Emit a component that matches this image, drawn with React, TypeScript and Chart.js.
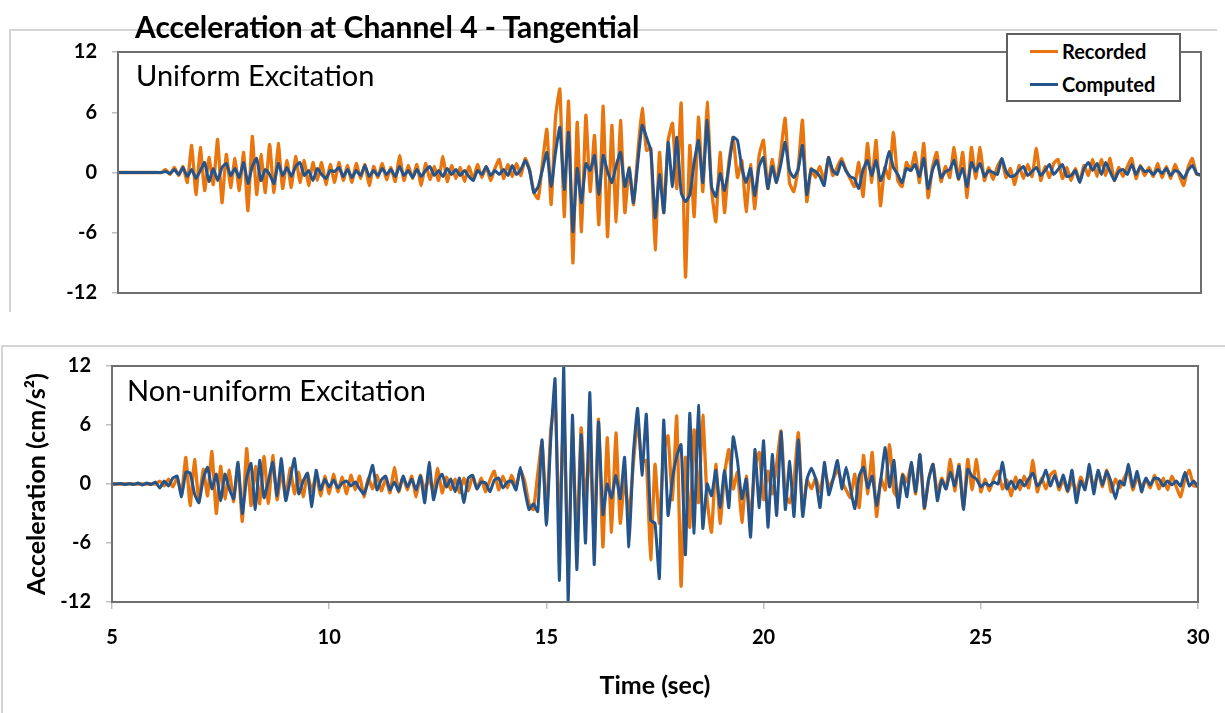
import React, { useEffect, useRef } from 'react';
import { Chart, registerables } from 'chart.js';

Chart.register(...registerables);

// ---- data ----
const START_TIME = 5; // s, time of first sample
const TIME_STEP = 0.1; // s, sample spacing
const seriesNames = ['Recorded', 'Computed'];
const panelNames = ['Uniform Excitation', 'Non-uniform Excitation'];
const chartTitle = 'Acceleration at Channel 4 - Tangential';
const yAxisTitle = 'Acceleration (cm/s\u00B2)';
const xAxisTitle = 'Time (sec)';
const yTicks = [-12, -6, 0, 6, 12];
const xTicks = [5, 10, 15, 20, 25, 30];

// Recorded acceleration (same record shown in both panels), t = 5.0 ... 30.0 s
const recorded = [
  0, 0, 0, 0, 0, 0, 0, 0, 0, 0,
  0, 0.3, -0.2, 0.5, -0.3, 0.6, -1.0, 2.7, -2.2, 2.5,
  -1.8, 1.5, -1.2, 3.3, -3.0, 1.8, -1.5, 1.4, -1.8, 2.0,
  -3.8, 3.6, -2.2, 1.8, -2.0, 2.8, -2.0, 2.9, -1.6, 1.2,
  -1.5, 1.6, -1.0, 1.2, -1.3, 1.0, -0.8, 1.0, -1.2, 0.8,
  -1.0, 1.0, -0.8, 0.7, -1.0, 0.9, -0.6, 0.8, -1.3, 0.6,
  -0.5, 0.9, -0.7, 0.5, -0.9, 1.7, -0.8, 0.7, -0.6, 0.8,
  -1.3, 0.9, -0.7, 0.6, -0.8, 1.6, -0.9, 0.7, -0.6, 0.5,
  -0.9, 0.6, -0.7, 0.8, -0.5, 0.6, -0.8, 0.4, 1.3, -0.6,
  0.8, -0.4, 0.9, -0.3, 1.4, 0.3, -2.0, -2.6, 1.0, 4.3,
  -3.2, 5.5, 8.3, -4.4, 7.1, -9.0, 5.0, -5.9, 5.7, -1.9,
  3.7, -5.2, 6.6, -6.4, 4.7, -4.9, 5.2, -4.0, 0.5, -3.2,
  2.0, 6.4, 2.2, 2.4, -7.7, 2.0, -4.0, 3.2, 4.9, -1.6,
  6.9, -10.4, 2.7, -4.4, 5.5, -1.9, 7.0, -1.6, -4.9, 2.0,
  -4.0, 1.0, 3.5, -0.5, 1.2, -3.9, 0.8, -3.6, 1.7, 3.2,
  -1.6, 1.3, -1.0, 2.0, 5.4, -1.0, -1.9, 0.4, 5.2, -2.9,
  0.4, -0.5, 0.6, -0.8, 1.5, -0.3, 0.5, 1.4, 0.3, -0.6,
  -1.4, 1.0, -2.4, 2.9, -1.0, 3.2, -3.3, 0.5, -0.6, 4.0,
  -0.8, -1.4, 1.0, 0.2, 2.0, -1.0, 2.9, -2.5, 0.5, 2.0,
  -0.9, 0.6, -0.5, 2.5, -0.7, 2.0, -2.5, 2.5, -0.6, 2.5,
  -0.8, 0.5, -0.7, 0.6, 1.3, -0.5, 0.4, -1.2, 0.7, -0.6,
  0.8, -0.4, 2.4, -0.8, 0.6, -0.5, 0.9, 1.3, -0.6, 0.5,
  -0.8, 0.4, -0.9, 0.7, -0.3, 1.3, -0.4, 1.3, -0.3, 1.4,
  -0.8, 0.5, -0.4, 0.6, 1.4, -0.6, 0.7, -0.3, 0.5, -0.4,
  0.9, -0.5, 0.6, -0.6, 0.8, -0.3, -1.3, 0.5, 1.4, -0.2,
  -0.2,
];

// Computed, uniform excitation
const computedUniform = [
  0, 0, 0, 0, 0, 0, 0, 0, 0, 0,
  0, 0.1, -0.1, 0.3, -0.2, 0.5, -0.4, 0.3, -0.6, 0.2,
  1.0, -0.9, 0.4, -0.8, 0.5, 0.9, -0.3, 0.4, -0.5, 1.0,
  -1.1, 0.6, 1.4, -0.8, 0.3, -0.2, -1.1, 0.9, -0.3, 0.5,
  -0.4, 0.6, 1.0, -0.3, 0.2, -0.8, 0.4, -0.2, -0.6, 0.2,
  0.1, 0.5, -0.4, 0.3, -0.5, 0.2, -0.3, 0.7, -0.4, 0.2,
  -0.3, 0.4, -0.2, 0.3, -0.4, 0.6, -0.3, 0.2, -0.5, 0.3,
  -0.4, 0.2, 0.6, -0.3, 0.2, -0.4, 0.4, -0.2, 0.3, -0.3,
  0.2, -0.4, -0.8, 0.2, -0.2, 0.6, -0.3, 0.2, -0.2, 0.3,
  -0.3, 0.7, -0.2, 0.3, 1.2, 0.2, -2.0, -1.4, 0.3, 2.0,
  -1.4, 2.0, 4.5, -1.7, 4.0, -5.9, 0.4, -3.0, 0.9, 0.2,
  1.7, -2.2, 1.7, 0.1, -1.0, 0.7, 2.0, -1.4, 0.4, -3.0,
  1.0, 4.7, 3.5, 2.2, -4.5, -0.2, -4.0, 3.0, -1.4, 3.5,
  -2.0, -2.9, -2.2, 1.0, 3.2, -1.0, 5.2, -1.4, -2.4, -0.1,
  -1.8, 0.5, 3.5, 3.2, 0.5, -1.0, 0.4, -2.3, 0.6, 1.5,
  -1.6, 0.6, -1.0, 0.8, 3.0, 0.2, -0.5, 0.3, 2.7, -2.2,
  0.3, 0.1, -0.4, -1.3, 1.5, 0.2, -0.2, 1.1, 0.2, -0.4,
  -0.6, -1.6, 0.3, 1.2, -0.3, 1.2, -0.8, 0.3, 2.1, 0.5,
  -0.2, -1.0, 0.4, 0.2, 0.8, -0.4, 1.4, -1.6, 0.2, 1.2,
  -0.5, 0.1, 0.3, 1.2, -0.6, 0.4, -1.4, 1.0, 0.1, 0.9,
  -0.4, 0.2, 0.0, -0.2, 1.4, 0.1, -0.4, -0.3, 0.2, 0.6,
  -0.3, 0.1, 0.5, -0.3, 0.2, 0.8, -0.2, 0.3, 0.8, -0.4,
  -0.3, 0.2, -1.0, 0.4, 1.0, 0.2, 0.9, -0.2, 1.0, 0.1,
  -0.8, 0.1, 0.3, -0.2, 0.8, -0.2, 0.6, 0.1, 0.2, -0.2,
  0.3, -0.1, 0.4, -0.3, 0.2, 0.0, -0.6, 0.2, 0.7, -0.1,
  -0.3,
];

// Computed, non-uniform excitation
const computedNonUniform = [
  0, 0, 0.05, -0.05, 0.05, -0.05, 0.1, -0.1, 0.1, -0.05,
  0.2, -0.4, 0.3, -0.2, 0.6, 0.8, -1.3, 1.2, 1.1, -1.0,
  -1.9, 0.5, 1.7, -0.5, 1.0, -1.7, 1.0, -0.5, -1.5, 2.2,
  -3.0, 0.6, 2.1, -2.6, 2.4, -1.4, 0.3, 2.2, -1.2, 2.6,
  -1.7, 0.4, 2.6, -1.0, 0.3, 1.1, -2.3, 1.4, -0.6, 0.5,
  -0.3, 0.4, -0.4, 0.1, 0.3, -0.2, 0.2, -0.5, -1.0, 0.3,
  1.9, -0.6, 0.4, 0.8, -0.6, 0.2, -0.7, 0.8, -0.3, 0.5,
  -0.6, 0.8, -1.9, 2.2, -1.6, 0.3, 1.0, -0.3, 0.5, -0.8,
  0.6, -1.9, 0.6, 0.9, -0.5, 0.2, 0.1, -0.8, 0.4, 0.6,
  -0.4, 0.2, 0.3, -0.6, 1.7, -0.6, -2.6, -2.0, -2.8, 4.5,
  -4.2, 4.5, 10.7, -9.8, 12.0, -12.0, 7.0, -8.7, 5.0, -6.0,
  9.3, -8.2, 6.3, -3.1, 0.0, -1.4, 0.9, -1.5, 2.7, -6.4,
  3.0, 7.7, 0.9, 7.1, -3.7, -4.0, -9.6, 6.5, -3.2, 0.5,
  2.8, 4.0, -7.2, 7.2, -5.0, 8.0, -4.5, 0.0, -1.2, 1.4,
  -2.4, 1.4, -2.4, 4.8, 2.3, -1.5, 0.5, -5.4, 3.5, -2.4,
  4.4, -4.4, 3.0, -3.2, 5.3, -2.6, 2.3, -3.3, 4.5, -3.3,
  0.5, 1.6, 0.5, -2.4, 2.2, -1.1, 0.5, 2.4, -0.5, 1.7,
  -0.5, -2.5, 0.8, 1.7, -0.4, 0.8, -2.2, 0.5, 3.7, -0.3,
  2.4, -2.4, 0.9, -1.3, 2.2, -0.8, 3.0, -2.4, 0.5, 2.0,
  -1.7, 0.4, -0.5, 1.2, -0.2, 1.8, -2.6, 1.5, 0.8, 0.5,
  -0.3, 0.1, -0.2, 0.2, 0.0, 2.2, -0.5, 0.3, -0.5, 0.4,
  -0.2, 0.5, 1.1, -0.2, 0.3, 1.4, -0.2, 0.9, -0.3, 0.9,
  -0.7, 1.4, -1.9, 0.3, -0.6, 2.0, -1.0, 1.4, -0.1, 1.3,
  0.2, -1.5, 0.3, -0.1, 2.0, -0.3, 1.3, -0.8, 0.6, -0.1,
  0.6, 0.5, -0.2, 0.3, -0.1, 0.3, -0.2, 1.2, -0.2, 0.3,
  -0.3,
];

// ---- styles ----
const ORANGE = '#E8750E';
const BLUE = '#24548A';
const FONT = 'Lato, "Open Sans", "DejaVu Sans", sans-serif';
Chart.defaults.font.family = FONT;

const toPoints = (vals: number[]) =>
  vals.map((v, i) => ({ x: START_TIME + i * TIME_STEP, y: v }));

const plotBorder = {
  id: 'plotBorder',
  afterDraw(chart: any) {
    const { ctx, chartArea: a } = chart;
    ctx.save();
    ctx.strokeStyle = '#6f6f6f';
    ctx.lineWidth = 2;
    ctx.strokeRect(a.left, a.top, a.right - a.left, a.bottom - a.top);
    ctx.restore();
  },
};

function makeConfig(computed: number[], bottom: boolean): any {
  const yWidth = bottom ? 112 : 118;
  return {
    type: 'line',
    data: {
      datasets: [
        {
          label: seriesNames[1],
          data: toPoints(computed),
          borderColor: BLUE,
          borderWidth: 3,
          pointRadius: 0,
          tension: 0.15,
          order: 1,
        },
        {
          label: seriesNames[0],
          data: toPoints(recorded),
          borderColor: ORANGE,
          borderWidth: 3.3,
          pointRadius: 0,
          tension: 0.15,
          order: 2,
        },
      ],
    },
    options: {
      animation: false,
      responsive: false,
      events: [],
      layout: {
        padding: bottom
          ? { top: 16, right: 27, bottom: 0, left: 0 }
          : { top: 12, right: 24, bottom: 17, left: 0 },
      },
      plugins: { legend: { display: false }, tooltip: { enabled: false } },
      scales: {
        x: {
          type: 'linear',
          min: xTicks[0],
          max: xTicks[xTicks.length - 1],
          display: bottom,
          afterBuildTicks: (s: any) => {
            s.ticks = xTicks.map((v) => ({ value: v }));
          },
          afterFit: (s: any) => {
            s.height = bottom ? 111 : 0;
            s.paddingLeft = 0;
            s.paddingRight = 0;
          },
          ticks: {
            color: '#000',
            font: { size: 20, weight: 'bold' },
            padding: 17,
            maxRotation: 0,
          },
          grid: {
            drawOnChartArea: false,
            drawTicks: true,
            tickLength: 7,
            color: '#bfbfbf',
            lineWidth: 1.5,
          },
          border: { display: false },
          title: {
            display: true,
            text: xAxisTitle,
            color: '#000',
            font: { size: 25, weight: 'bold' },
            padding: { top: 0, bottom: 12 },
          },
        },
        y: {
          min: yTicks[0],
          max: yTicks[yTicks.length - 1],
          afterBuildTicks: (s: any) => {
            s.ticks = yTicks.map((v) => ({ value: v }));
          },
          afterFit: (s: any) => {
            s.width = yWidth;
            s.paddingTop = 0;
            s.paddingBottom = 0;
          },
          ticks: {
            color: '#000',
            font: { size: 20, weight: 'bold' },
            padding: 15,
          },
          grid: {
            drawOnChartArea: false,
            drawTicks: true,
            tickLength: 6,
            color: '#bfbfbf',
            lineWidth: 1.5,
          },
          border: { display: false },
          title: {
            display: bottom,
            text: yAxisTitle,
            color: '#000',
            font: { size: 25, weight: 'bold' },
            padding: { top: 22, bottom: 0 },
          },
        },
      },
    },
    plugins: [plotBorder],
  };
}

function Panel({ computed, bottom, top, height }: { computed: number[]; bottom: boolean; top: number; height: number }) {
  const ref = useRef<HTMLCanvasElement | null>(null);
  useEffect(() => {
    if (!ref.current) return;
    const chart = new Chart(ref.current, makeConfig(computed, bottom));
    return () => chart.destroy();
  }, [computed, bottom]);
  return (
    <canvas
      ref={ref}
      width={1225}
      height={height}
      style={{ position: 'absolute', left: 0, top, width: 1225, height }}
    />
  );
}

const seriesColors = [ORANGE, BLUE];

export default function App() {
  return (
    <div
      style={{
        position: 'absolute',
        left: 0,
        top: 0,
        width: 1225,
        height: 713,
        overflow: 'hidden',
        background: '#fff',
        fontFamily: FONT,
      }}
    >
      {/* outer frames */}
      <div
        style={{
          position: 'absolute',
          left: 9,
          top: 29,
          width: 1208,
          height: 283,
          borderTop: '2px solid #d4d4d4',
          borderLeft: '2px solid #d4d4d4',
          boxSizing: 'border-box',
        }}
      />
      <div
        style={{
          position: 'absolute',
          left: 1,
          top: 345,
          width: 1224,
          height: 368,
          borderTop: '2px solid #d4d4d4',
          borderLeft: '2px solid #d4d4d4',
          boxSizing: 'border-box',
        }}
      />
      <Panel computed={computedUniform} bottom={false} top={40} height={270} />
      <Panel computed={computedNonUniform} bottom={true} top={350} height={363} />
      {/* chart title */}
      <div
        style={{
          position: 'absolute',
          left: 135,
          top: 11,
          fontSize: 30,
          lineHeight: 1,
          fontWeight: 'bold',
          color: '#000',
          whiteSpace: 'nowrap',
        }}
      >
        {chartTitle}
      </div>
      {/* panel labels */}
      <div
        style={{
          position: 'absolute',
          left: 136,
          top: 60,
          fontSize: 29,
          lineHeight: 1,
          color: '#000',
          whiteSpace: 'nowrap',
        }}
      >
        {panelNames[0]}
      </div>
      <div
        style={{
          position: 'absolute',
          left: 127,
          top: 375,
          fontSize: 29,
          lineHeight: 1,
          color: '#000',
          whiteSpace: 'nowrap',
        }}
      >
        {panelNames[1]}
      </div>
      {/* legend */}
      <div
        style={{
          position: 'absolute',
          left: 1006,
          top: 33,
          width: 175,
          height: 69,
          boxSizing: 'border-box',
          border: '2px solid #5f5f5f',
          background: '#fff',
        }}
      >
        {seriesNames.map((name, i) => (
          <div
            key={name}
            style={{
              position: 'absolute',
              left: 22,
              top: 5 + i * 33,
              height: 22,
              display: 'flex',
              alignItems: 'center',
              whiteSpace: 'nowrap',
            }}
          >
            <span
              style={{
                display: 'inline-block',
                width: 28,
                height: 3,
                background: seriesColors[i],
                marginRight: 4,
              }}
            />
            <span style={{ fontSize: 20, fontWeight: 'bold', color: '#000', lineHeight: 1 }}>{name}</span>
          </div>
        ))}
      </div>
    </div>
  );
}
